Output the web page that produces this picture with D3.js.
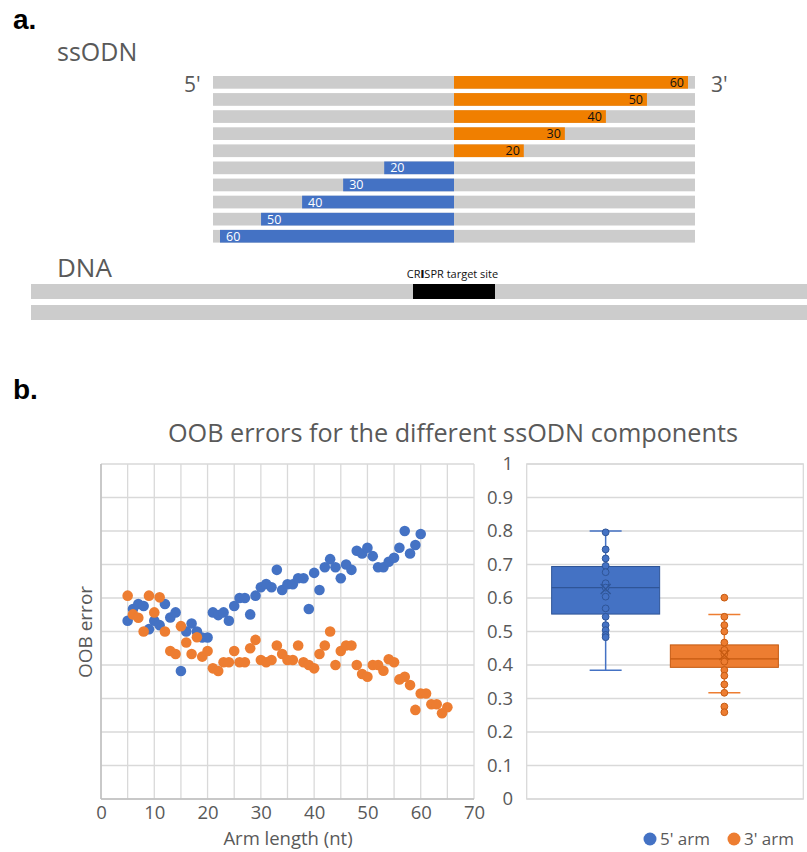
<!DOCTYPE html>
<meta charset="utf-8">
<title>ssODN arms and OOB error</title>
<script src="https://d3js.org/d3.v7.min.js"></script>
<style>
  body { margin: 0; background: #fff; }
  text { font-family: "Open Sans", "Noto Sans", sans-serif; }
</style>
<body>
<div id="my_dataviz"></div>
<script>

// ---- data: panel a (ssODN designs) ----
var threePrimeRows = [60, 50, 40, 30, 20];   // orange rows, top to bottom
var fivePrimeRows = [20, 30, 40, 50, 60];    // blue rows, below
var ssodnArm = 61.7;                          // full half length of the grey ssODN bar

// ---- data: panel b scatter ----
var fiveLen = [5,6,7,8,9,10,11,12,13,14,15,16,17,18,19,20,21,22,23,24,25,26,27,28,29,30,
  31,32,33,34,35,36,37,38,39,40,41,42,43,44,45,46,47,48,49,50,51,52,53,54,55,56,57,58,59,60];
var fiveErr = [0.532,0.567,0.582,0.576,0.507,0.532,0.519,0.582,0.542,0.557,
  0.382,0.500,0.524,0.500,0.482,0.482,0.557,0.549,0.557,0.532,
  0.576,0.600,0.600,0.551,0.607,0.632,0.642,0.632,0.684,0.624,
  0.641,0.641,0.659,0.659,0.567,0.675,0.624,0.692,0.716,0.692,
  0.659,0.700,0.684,0.741,0.733,0.750,0.725,0.692,0.692,0.708,
  0.720,0.750,0.800,0.733,0.758,0.791];
var threeLen = [5,6,7,8,9,10,11,12,13,14,15,16,17,18,19,20,21,22,23,24,25,26,27,28,29,30,
  31,32,33,34,35,36,37,38,39,40,41,42,43,44,45,46,47,48,49,50,51,52,53,54,55,56,57,58,59,60,
  61,62,63,64,65];
var threeErr = [0.607,0.551,0.541,0.500,0.607,0.557,0.602,0.500,0.442,0.433,
  0.516,0.467,0.433,0.483,0.425,0.442,0.390,0.382,0.408,0.408,
  0.442,0.408,0.408,0.450,0.475,0.415,0.408,0.415,0.458,0.433,
  0.415,0.415,0.458,0.408,0.400,0.390,0.433,0.458,0.500,0.400,
  0.442,0.458,0.458,0.400,0.373,0.365,0.400,0.400,0.383,0.417,
  0.408,0.357,0.365,0.340,0.266,0.315,0.315,0.283,0.283,0.256,0.274];

// ---- data: panel b box plot ----
var boxNames = ["5' arm", "3' arm"];
var boxQ1 = [0.552, 0.393];
var boxMedian = [0.631, 0.418];
var boxQ3 = [0.694, 0.460];
var boxLow = [0.384, 0.317];
var boxHigh = [0.800, 0.551];
var boxMean = [0.627, 0.430];
var fiveBoxPts = [0.796,0.745,0.718,0.696,0.677,0.644,0.631,0.604,0.569,0.544,0.519,0.504,0.490,0.483];
var threeBoxPts = [0.601,0.544,0.519,0.500,0.467,0.445,0.433,0.410,0.385,0.368,0.342,0.317,0.276,0.259];

var blue = "#4472C4", orange = "#ED7D31", orangeA = "#F07F00";
var blueDark = "#2F5597", orangeDark = "#C55A11";
var grey = "#CCCCCC", labelGrey = "#595959", gridGrey = "#D9D9D9";

var svg = d3.select("#my_dataviz")
  .append("svg")
  .attr("width", 807)
  .attr("height", 852);

// ================= panel a =================
svg.append("text").attr("x", 13).attr("y", 29)
  .style("font-family", "Liberation Sans, Arial, sans-serif")
  .style("font-weight", "bold").style("font-size", "28px").text("a.");
svg.append("text").attr("x", 57).attr("y", 61)
  .style("font-size", "25px").style("fill", labelGrey).text("ssODN");

var rows = threePrimeRows.map(function (d) { return { arm: "3", len: d }; })
  .concat(fivePrimeRows.map(function (d) { return { arm: "5", len: d }; }));

var rowY = d3.scaleBand()
  .domain(d3.range(rows.length))
  .range([76, 242.6])
  .paddingInner(0.257)
  .paddingOuter(0);

var cut = 454;
var armW = d3.scaleLinear().domain([3, 60]).range([0, 234]);

var ga = svg.append("g");
ga.selectAll(".bg").data(rows).enter().append("rect")
  .attr("x", cut - armW(ssodnArm))
  .attr("y", function (d, i) { return rowY(i); })
  .attr("width", 2 * armW(ssodnArm))
  .attr("height", rowY.bandwidth())
  .style("fill", grey);

ga.selectAll(".arm").data(rows).enter().append("rect")
  .attr("x", function (d) { return d.arm === "5" ? cut - armW(d.len) : cut; })
  .attr("y", function (d, i) { return rowY(i); })
  .attr("width", function (d) { return armW(d.len); })
  .attr("height", rowY.bandwidth())
  .style("fill", function (d) { return d.arm === "5" ? blue : orangeA; });

ga.selectAll(".lab").data(rows).enter().append("text")
  .attr("x", function (d) { return d.arm === "5" ? cut - armW(d.len) + 6 : cut + armW(d.len) - 4; })
  .attr("y", function (d, i) { return rowY(i) + rowY.bandwidth() / 2 + 4.5; })
  .attr("text-anchor", function (d) { return d.arm === "5" ? "start" : "end"; })
  .style("font-size", "12.5px")
  .style("fill", function (d) { return d.arm === "5" ? "#fff" : "#111"; })
  .text(function (d) { return d.len; });

svg.append("text").attr("x", 184).attr("y", 92)
  .style("font-size", "21px").style("fill", labelGrey).text("5'");
svg.append("text").attr("x", 711).attr("y", 92)
  .style("font-size", "21px").style("fill", labelGrey).text("3'");

// DNA
svg.append("text").attr("x", 57).attr("y", 277)
  .style("font-size", "26px").style("fill", labelGrey).text("DNA");
svg.append("rect").attr("x", 31).attr("y", 284).attr("width", 776).attr("height", 15).style("fill", grey);
svg.append("rect").attr("x", 31).attr("y", 305).attr("width", 776).attr("height", 15).style("fill", grey);
svg.append("rect").attr("x", 413).attr("y", 284).attr("width", 82).attr("height", 15).style("fill", "#000");
var crispr = svg.append("text").attr("x", 452.5).attr("y", 278)
  .attr("text-anchor", "middle").style("font-size", "11px").style("fill", "#111");
crispr.append("tspan").text("CR");
crispr.append("tspan").style("font-weight", "900").text("I");
crispr.append("tspan").text("SPR target site");

// ================= panel b =================
svg.append("text").attr("x", 13).attr("y", 399)
  .style("font-family", "Liberation Sans, Arial, sans-serif")
  .style("font-weight", "bold").style("font-size", "28px").text("b.");

svg.append("text").attr("x", 453).attr("y", 442)
  .attr("text-anchor", "middle")
  .attr("textLength", 570).attr("lengthAdjust", "spacingAndGlyphs")
  .style("font-size", "25px").style("fill", labelGrey)
  .text("OOB errors for the different ssODN components");

// scatter
var x = d3.scaleLinear().domain([0, 70]).range([101, 474]);
var y = d3.scaleLinear().domain([0, 1]).range([799, 464]);

var gs = svg.append("g");
gs.selectAll(".vg").data(d3.range(0, 71, 5)).enter().append("line")
  .attr("x1", function (d) { return x(d); }).attr("x2", function (d) { return x(d); })
  .attr("y1", y(0)).attr("y2", y(1))
  .style("stroke", gridGrey).style("stroke-width", 1.3);
gs.selectAll(".hg").data(y.ticks(10)).enter().append("line")
  .attr("x1", x(0)).attr("x2", x(70))
  .attr("y1", function (d) { return y(d); }).attr("y2", function (d) { return y(d); })
  .style("stroke", gridGrey).style("stroke-width", 1.3);
gs.append("line").attr("x1", x(0)).attr("x2", x(0)).attr("y1", y(0)).attr("y2", y(1))
  .style("stroke", "#BFBFBF").style("stroke-width", 1.5);
gs.append("line").attr("x1", x(0)).attr("x2", x(70)).attr("y1", y(0)).attr("y2", y(0))
  .style("stroke", "#BFBFBF").style("stroke-width", 1.5);

var xAxis = gs.append("g")
  .attr("transform", "translate(0," + y(0) + ")")
  .call(d3.axisBottom(x).ticks(7).tickSize(0).tickPadding(7));
xAxis.select(".domain").remove();
xAxis.selectAll("text").style("font-size", "18.5px").style("fill", labelGrey)
  .style("font-family", "'Open Sans', sans-serif");

svg.append("text").attr("x", 288).attr("y", 845)
  .attr("text-anchor", "middle").style("font-size", "18.5px").style("fill", labelGrey)
  .text("Arm length (nt)");
svg.append("text").attr("transform", "translate(92,632) rotate(-90)")
  .attr("text-anchor", "middle").style("font-size", "19px").style("fill", labelGrey)
  .text("OOB error");

gs.append("g").selectAll("circle").data(fiveLen).enter().append("circle")
  .attr("cx", function (d) { return x(d); })
  .attr("cy", function (d, i) { return y(fiveErr[i]); })
  .attr("r", 5.3).style("fill", blue);
gs.append("g").selectAll("circle").data(threeLen).enter().append("circle")
  .attr("cx", function (d) { return x(d); })
  .attr("cy", function (d, i) { return y(threeErr[i]); })
  .attr("r", 5.3).style("fill", orange);

// box plot
var bx = d3.scaleBand().domain(boxNames).range([526.7, 803.3])
  .paddingInner(0.09).paddingOuter(0.21);
var gb = svg.append("g");
gb.selectAll(".hg").data(y.ticks(10)).enter().append("line")
  .attr("x1", 526.7).attr("x2", 803.3)
  .attr("y1", function (d) { return y(d); }).attr("y2", function (d) { return y(d); })
  .style("stroke", gridGrey).style("stroke-width", 1.3);
gb.append("rect").attr("x", 526.7).attr("y", y(1)).attr("width", 276.6).attr("height", y(0) - y(1))
  .style("fill", "none").style("stroke", gridGrey).style("stroke-width", 1.3);

var yAxis = gb.append("g").attr("transform", "translate(521,0)")
  .call(d3.axisLeft(y).ticks(10).tickSize(0).tickPadding(8).tickFormat(d3.format(".1~f")));
yAxis.select(".domain").remove();
yAxis.selectAll("text").style("font-size", "18.5px").style("fill", labelGrey)
  .style("font-family", "'Open Sans', sans-serif");

var boxes = boxNames.map(function (n, i) {
  return { name: n, q1: boxQ1[i], med: boxMedian[i], q3: boxQ3[i], lo: boxLow[i], hi: boxHigh[i],
    mean: boxMean[i], pts: i === 0 ? fiveBoxPts : threeBoxPts,
    fill: i === 0 ? blue : orange, dark: i === 0 ? blueDark : orangeDark };
});

boxes.forEach(function (b) {
  var x0 = bx(b.name), w = bx.bandwidth(), cx = x0 + w / 2, cap = 16;
  var g = gb.append("g");
  g.append("line").attr("x1", cx).attr("x2", cx).attr("y1", y(b.hi)).attr("y2", y(b.lo))
    .style("stroke", b.fill).style("stroke-width", 1.5);
  g.append("line").attr("x1", cx - cap).attr("x2", cx + cap).attr("y1", y(b.hi)).attr("y2", y(b.hi))
    .style("stroke", b.fill).style("stroke-width", 1.5);
  g.append("line").attr("x1", cx - cap).attr("x2", cx + cap).attr("y1", y(b.lo)).attr("y2", y(b.lo))
    .style("stroke", b.fill).style("stroke-width", 1.5);
  g.append("rect").attr("x", x0).attr("y", y(b.q3)).attr("width", w).attr("height", y(b.q1) - y(b.q3))
    .style("fill", b.fill).style("stroke", b.dark).style("stroke-width", 1);
  g.append("line").attr("x1", x0).attr("x2", x0 + w).attr("y1", y(b.med)).attr("y2", y(b.med))
    .style("stroke", b.dark).style("stroke-width", 1.3);
  g.selectAll("circle").data(b.pts).enter().append("circle")
    .attr("cx", cx).attr("cy", function (d) { return y(d); }).attr("r", 3.4)
    .style("fill", b.fill).style("stroke", b.dark).style("stroke-width", 1);
  var m = 5;
  g.append("path")
    .attr("d", "M" + (cx - m) + "," + (y(b.mean) - m) + "L" + (cx + m) + "," + (y(b.mean) + m) +
      "M" + (cx - m) + "," + (y(b.mean) + m) + "L" + (cx + m) + "," + (y(b.mean) - m))
    .style("stroke", b.dark).style("stroke-width", 1.3);
});

// legend
var legend = svg.append("g");
var legX = [650, 734];
boxes.forEach(function (b, i) {
  legend.append("circle").attr("cx", legX[i]).attr("cy", 839).attr("r", 6.5).style("fill", b.fill);
  legend.append("text").attr("x", legX[i] + 10).attr("y", 845)
    .style("font-size", "17px").style("fill", labelGrey).text(b.name);
});

</script>
</body>
